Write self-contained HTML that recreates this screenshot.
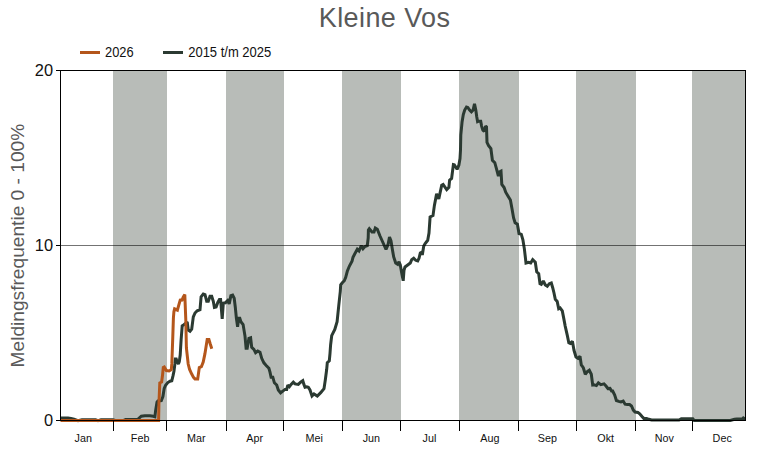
<!DOCTYPE html>
<html><head><meta charset="utf-8"><title>Kleine Vos</title>
<style>html,body{margin:0;padding:0;background:#fff;width:765px;height:450px;overflow:hidden}svg{display:block}text{font-family:"Liberation Sans",sans-serif}</style>
</head><body>
<svg width="765" height="450" viewBox="0 0 765 450">
<rect x="0" y="0" width="765" height="450" fill="#fff"/>
<rect x="113" y="70" width="54" height="350" fill="#b8bcb8"/>
<rect x="226" y="70" width="58" height="350" fill="#b8bcb8"/>
<rect x="342" y="70" width="59" height="350" fill="#b8bcb8"/>
<rect x="459" y="70" width="60" height="350" fill="#b8bcb8"/>
<rect x="576" y="70" width="60" height="350" fill="#b8bcb8"/>
<rect x="692" y="70" width="53" height="350" fill="#b8bcb8"/>
<polyline points="60.5,418.1 63.0,418.0 68.0,418.1 71.0,418.4 74.0,419.3 78.0,420.6 82.0,419.7 95.5,419.7 98.0,420.6 101.0,419.8 113.0,419.8 116.0,420.6 123.0,420.6 125.7,419.6 137.8,419.3 141.3,416.2 144.9,415.7 149.9,415.7 153.4,416.3 154.9,416.8 155.6,410.6 157.0,402.1 157.9,401.0 161.3,400.7 162.9,396.5 164.2,388.5 165.6,385.2 167.8,382.6 170.0,381.2 171.8,380.8 173.1,375.4 174.0,371.0 174.9,363.9 175.3,359.0 176.2,359.0 177.1,361.7 178.4,363.9 179.3,361.7 180.2,355.0 181.1,340.0 182.2,325.8 183.9,324.7 185.5,323.5 187.2,321.9 188.3,330.2 190.0,331.3 191.7,329.1 193.3,316.9 195.0,313.0 197.2,310.8 200.0,309.7 201.1,296.9 203.3,294.1 205.0,294.7 206.7,301.3 208.3,301.3 210.0,296.3 211.7,296.3 213.3,301.3 214.4,307.4 216.1,306.9 217.8,302.4 219.4,299.6 220.6,299.6 222.2,318.8 223.3,303.3 225.3,302.8 227.6,300.6 229.2,303.9 230.9,295.6 232.6,295.0 234.2,298.3 235.3,307.2 236.4,318.3 237.6,326.7 238.7,318.3 239.8,318.3 240.9,321.7 243.1,324.5 245.0,336.1 246.1,348.3 247.2,348.3 248.9,338.3 250.6,337.8 251.7,347.2 253.9,349.4 255.6,352.8 257.8,351.1 260.0,352.2 261.7,358.3 263.9,362.8 266.7,366.1 268.9,368.3 270.0,372.2 271.1,377.2 272.8,377.2 274.4,382.8 276.7,385.0 278.3,390.0 280.6,392.8 282.8,391.1 285.0,389.4 286.7,389.4 287.8,385.0 289.4,386.7 291.1,384.4 293.3,382.2 295.0,383.9 298.3,384.4 300.6,382.2 302.8,380.6 303.9,384.4 305.0,387.2 306.7,386.7 308.3,387.2 310.0,390.0 312.0,396.0 314.0,394.0 317.3,396.0 320.7,392.7 324.0,388.7 325.3,380.0 326.7,369.3 327.3,362.7 329.3,360.7 330.0,353.3 330.6,345.0 331.7,335.7 334.8,329.4 337.1,321.7 338.7,306.1 340.3,291.3 340.7,284.7 342.3,282.7 344.3,280.7 345.7,277.3 347.3,271.3 349.3,266.3 352.0,261.3 353.0,257.3 354.7,254.0 357.3,249.3 359.0,251.0 361.3,245.7 363.0,248.7 364.7,246.7 367.3,245.7 368.2,238.0 368.4,230.0 369.3,228.7 372.0,232.0 374.0,232.0 375.3,228.0 377.3,229.3 380.0,236.0 382.7,242.0 386.0,249.3 388.0,244.7 389.5,237.0 391.0,241.0 392.3,249.0 393.7,257.0 395.7,263.0 397.7,264.3 399.0,261.7 400.3,265.0 401.7,273.0 403.2,280.8 404.0,270.3 405.0,267.0 407.7,265.0 410.3,263.0 411.7,259.7 413.7,258.3 415.7,260.3 417.7,261.0 419.0,258.3 420.3,253.0 421.7,252.3 422.3,255.0 423.7,246.3 425.0,243.7 427.7,240.3 429.0,233.0 430.1,217.0 433.0,215.6 434.4,205.4 436.6,193.9 438.8,198.9 441.7,185.2 443.1,184.5 446.7,189.6 448.9,187.4 449.6,180.2 451.6,178.4 453.4,164.6 454.3,164.8 457.1,169.3 458.9,165.0 460.0,158.5 460.5,150.0 460.8,135.0 462.1,121.7 463.3,114.5 464.7,110.1 466.5,107.0 467.8,107.5 469.6,110.1 471.4,111.9 473.1,110.1 474.5,103.8 475.8,110.1 476.7,116.4 477.6,121.7 478.9,121.2 480.7,121.2 481.6,126.1 482.9,130.1 484.3,131.5 485.6,126.1 486.5,127.0 487.0,142.4 488.6,145.6 490.9,148.7 492.4,160.3 494.8,162.7 496.3,168.1 498.4,176.2 499.4,172.0 501.0,171.2 501.8,184.4 504.1,187.5 505.7,192.2 508.1,196.2 510.4,200.1 512.0,208.7 513.6,218.0 515.1,222.7 517.4,224.2 519.0,233.5 521.3,234.3 522.9,239.8 524.4,249.1 526.0,263.0 528.7,262.3 530.7,263.0 532.7,259.7 535.3,262.3 536.7,271.7 538.7,273.7 540.0,283.7 541.3,284.3 543.3,281.0 545.3,285.0 547.3,286.3 549.3,283.7 551.3,283.0 552.7,287.7 554.0,293.0 555.3,299.3 557.2,301.5 558.7,308.7 560.1,308.0 562.3,310.9 563.7,318.1 565.2,326.1 567.3,335.4 568.8,342.7 570.2,343.4 572.4,341.2 574.0,350.3 576.0,357.0 578.0,358.3 580.0,356.3 581.3,365.0 583.3,367.7 585.3,374.3 587.3,371.7 589.3,370.3 591.3,374.3 592.7,385.0 594.0,384.8 596.4,385.6 598.4,382.8 600.8,384.6 604.0,383.8 606.0,386.0 608.0,388.6 610.0,388.4 611.6,391.0 612.7,391.0 614.7,395.0 616.4,400.5 618.7,401.4 620.9,401.9 623.2,401.0 625.1,404.2 627.4,404.6 629.6,404.6 631.5,406.0 633.3,410.1 635.1,412.0 637.9,412.4 639.7,413.8 642.0,416.5 643.8,418.4 646.6,418.4 648.9,419.3 651.6,420.0 679.0,420.0 681.3,418.8 692.8,418.8 694.2,420.4 730.3,420.4 734.5,419.3 737.0,418.9 742.5,418.8 743.3,418.0 744.2,418.6 745.5,418.8" fill="none" stroke="#2b3a32" stroke-width="3" stroke-linejoin="miter" stroke-miterlimit="2" stroke-linecap="butt"/>
<polyline points="60.5,420.5 158.6,420.5 158.9,404.0 159.8,383.0 161.6,382.1 162.4,376.3 163.3,367.4 164.2,367.0 166.4,370.6 169.1,371.0 171.3,369.7 171.8,363.9 172.8,336.6 173.4,318.0 173.9,311.8 174.6,308.9 176.0,309.5 177.4,310.1 178.7,305.4 180.5,299.2 181.7,300.8 183.3,297.0 184.8,294.6 185.8,320.0 186.4,348.0 188.2,364.0 189.6,369.5 191.6,373.8 193.5,377.4 195.0,378.9 197.7,378.9 198.4,374.0 199.3,367.6 201.4,366.7 203.2,362.0 204.9,353.9 207.2,339.4 208.9,339.4 210.1,343.5 211.8,348.7" fill="none" stroke="#b4561b" stroke-width="3" stroke-linejoin="miter" stroke-miterlimit="2" stroke-linecap="butt"/>
<rect x="60" y="245" width="685" height="1" fill="#000" fill-opacity="0.55"/>
<g fill="#000">
<rect x="60" y="70" width="686" height="1"/>
<rect x="60" y="70" width="1" height="351"/>
<rect x="745" y="70" width="1" height="351"/>
<rect x="60" y="420" width="686" height="1"/>
<rect x="56" y="70" width="4" height="1"/>
<rect x="56" y="245" width="4" height="1"/>
<rect x="56" y="420" width="4" height="1"/>
<rect x="113" y="421" width="1" height="10"/>
<rect x="166" y="421" width="1" height="10"/>
<rect x="226" y="421" width="1" height="10"/>
<rect x="283" y="421" width="1" height="10"/>
<rect x="342" y="421" width="1" height="10"/>
<rect x="400" y="421" width="1" height="10"/>
<rect x="459" y="421" width="1" height="10"/>
<rect x="518" y="421" width="1" height="10"/>
<rect x="576" y="421" width="1" height="10"/>
<rect x="635" y="421" width="1" height="10"/>
<rect x="692" y="421" width="1" height="10"/>
</g>
<text transform="translate(53,76) scale(0.965,1)" text-anchor="end"  font-size="17" fill="#111">20</text>
<text transform="translate(53,251) scale(0.965,1)" text-anchor="end"  font-size="17" fill="#111">10</text>
<text transform="translate(53,426) scale(0.965,1)" text-anchor="end"  font-size="17" fill="#111">0</text>
<text transform="translate(83.25,441.9) scale(0.98,1.04)" text-anchor="middle"  font-size="11" fill="#111">Jan</text>
<text transform="translate(140.1,441.9) scale(0.98,1.04)" text-anchor="middle"  font-size="11" fill="#111">Feb</text>
<text transform="translate(196.25,441.9) scale(0.98,1.04)" text-anchor="middle"  font-size="11" fill="#111">Mar</text>
<text transform="translate(254.7,441.9) scale(0.98,1.04)" text-anchor="middle"  font-size="11" fill="#111">Apr</text>
<text transform="translate(314.2,441.9) scale(0.98,1.04)" text-anchor="middle"  font-size="11" fill="#111">Mei</text>
<text transform="translate(371.35,441.9) scale(0.98,1.04)" text-anchor="middle"  font-size="11" fill="#111">Jun</text>
<text transform="translate(429.4,441.9) scale(0.98,1.04)" text-anchor="middle"  font-size="11" fill="#111">Jul</text>
<text transform="translate(489.8,441.9) scale(0.98,1.04)" text-anchor="middle"  font-size="11" fill="#111">Aug</text>
<text transform="translate(547.4,441.9) scale(0.98,1.04)" text-anchor="middle"  font-size="11" fill="#111">Sep</text>
<text transform="translate(605.7,441.9) scale(0.98,1.04)" text-anchor="middle"  font-size="11" fill="#111">Okt</text>
<text transform="translate(664.35,441.9) scale(0.98,1.04)" text-anchor="middle"  font-size="11" fill="#111">Nov</text>
<text transform="translate(722.2,441.9) scale(0.98,1.04)" text-anchor="middle"  font-size="11" fill="#111">Dec</text>
<text x="384.6" y="26.5" text-anchor="middle"  font-size="27" letter-spacing="0.4" fill="#595959">Kleine Vos</text>
<rect x="80" y="51" width="20" height="3" fill="#b4561b"/>
<text transform="translate(105,56.9) scale(0.99,1.07)"  font-size="13" fill="#111">2026</text>
<rect x="163" y="51" width="20" height="3" fill="#2b3a32"/>
<text transform="translate(188.2,56.9) scale(1,1.07)"  font-size="13" fill="#111">2015 t/m 2025</text>
<text transform="translate(23.5,245.6) rotate(-90)" text-anchor="middle"  font-size="19.15" fill="#595959">Meldingsfrequentie 0 - 100%</text>
</svg>
</body></html>
